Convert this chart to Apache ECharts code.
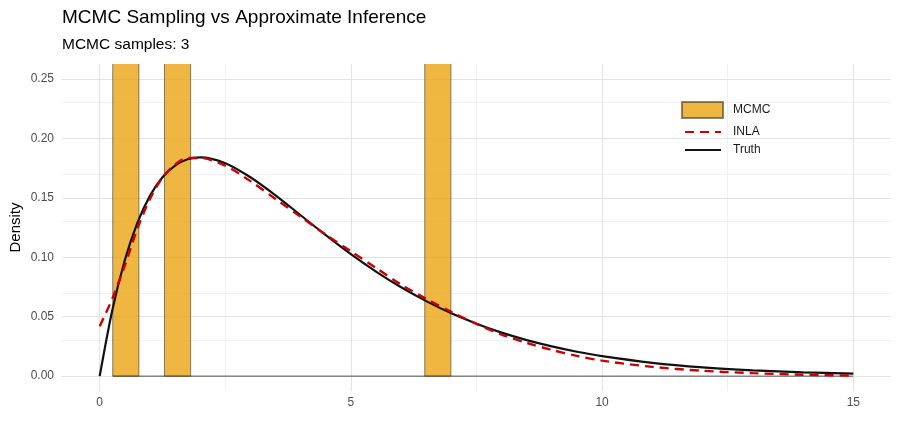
<!DOCTYPE html>
<html>
<head>
<meta charset="utf-8">
<script src="https://cdn.jsdelivr.net/npm/echarts@6/dist/echarts.min.js"></script>
<style>
html,body{margin:0;padding:0;background:#fff;}
#chart{width:900px;height:425px;}
</style>
</head>
<body>
<div id="chart"></div>
<script>
// ---- data ----
const titleText = 'MCMC Sampling vs Approximate Inference';
const subtitleText = 'MCMC samples: 3';
const xTickLabels = [0, 5, 10, 15];
const yTickLabels = [0, 0.05, 0.10, 0.15, 0.20, 0.25];
const xMinorGrid = [2.5, 7.5, 12.5];
const yMinorGrid = [0.025, 0.075, 0.125, 0.175, 0.225];

// MCMC histogram (3 samples) : bin left edges, right edges, density
const mcmcBinLeft = [0.26, 1.29, 6.47];
const mcmcBinRight = [0.78, 1.81, 6.99];
const mcmcDensity = [0.64, 0.64, 0.64];
// empty bins drawn as a baseline
const mcmcEmptyRange = [0.26, 15.0];

// curves
const curveX = [0, 0.25, 0.5, 0.75, 1, 1.25, 1.5, 1.75, 2, 2.5, 3, 3.5, 4, 4.5, 5, 5.5, 6, 6.5, 7, 7.5, 8, 8.5, 9, 9.5, 10, 11, 12, 13, 14, 15];
const truthY = [0, 0.0552, 0.0974, 0.1289, 0.1516, 0.1673, 0.1771, 0.1824, 0.1839, 0.1791, 0.1673, 0.1521, 0.1353, 0.1186, 0.1026, 0.0879, 0.0747, 0.0631, 0.0528, 0.0441, 0.0366, 0.0303, 0.0250, 0.0205, 0.0168, 0.0112, 0.0074, 0.0049, 0.0032, 0.0021];
const inlaY = [0.042, 0.065, 0.093, 0.124, 0.149, 0.167, 0.178, 0.1835, 0.1835, 0.177, 0.164, 0.149, 0.134, 0.119, 0.105, 0.091, 0.077, 0.065, 0.054, 0.044, 0.035, 0.028, 0.022, 0.017, 0.013, 0.0078, 0.0045, 0.0025, 0.0012, 0.0005];

// ---- build ----
const FONT = '"Liberation Sans", Arial, Helvetica, sans-serif';
const barFill = 'rgba(234,163,12,0.78)';
const barStroke = 'rgba(60,55,40,0.6)';

const histData = mcmcBinLeft.map((l, i) => [l, mcmcBinRight[i], mcmcDensity[i]]);
const truthData = curveX.map((x, i) => [x, truthY[i]]);
const inlaData = curveX.map((x, i) => [x, inlaY[i]]);

const isMult = (v, step) => Math.abs(v / step - Math.round(v / step)) < 1e-6;

const chart = echarts.init(document.getElementById('chart'), null, {renderer: 'canvas'});
chart.setOption({
  animation: false,
  backgroundColor: '#fff',
  textStyle: {fontFamily: FONT},
  title: [
    {text: titleText, left: 57, top: 3, textStyle: {fontFamily: FONT, fontSize: 19, fontWeight: 'normal', color: '#000'}},
    {text: subtitleText, left: 57, top: 32, textStyle: {fontFamily: FONT, fontSize: 15.5, fontWeight: 'normal', color: '#000'}}
  ],
  legend: [
    {
      data: [{name: 'MCMC', icon: 'rect'}],
      left: 681, top: 101, padding: 0,
      itemWidth: 41, itemHeight: 16,
      textStyle: {fontFamily: FONT, fontSize: 12, color: '#1a1a1a', padding: [0, 0, 0, 5]}
    },
    {
      data: [
        {name: 'INLA', itemStyle: {opacity: 0, color: 'rgba(0,0,0,0)', borderWidth: 0}},
        {name: 'Truth', itemStyle: {opacity: 0, color: 'rgba(0,0,0,0)', borderWidth: 0}}
      ],
      orient: 'vertical',
      left: 684, top: 126, padding: 0,
      itemWidth: 36, itemHeight: 14, itemGap: 6,
      textStyle: {fontFamily: FONT, fontSize: 12, color: '#1a1a1a', padding: [0, 0, 0, 7]}
    }
  ],
  grid: {left: 62, right: 9, top: 64, bottom: 34, containLabel: false, outerBoundsMode: 'none'},
  xAxis: {
    type: 'value', min: -0.75, max: 15.75, interval: 0.25,
    axisLine: {show: false}, axisTick: {show: false}, splitLine: {show: false},
    axisLabel: {
      fontFamily: FONT, fontSize: 12, color: '#4d4d4d', margin: 6,
      showMinLabel: true, showMaxLabel: true, hideOverlap: false,
      formatter: v => (isMult(v, 5) && xTickLabels.includes(Math.round(v))) ? String(Math.round(v)) : ''
    }
  },
  yAxis: {
    type: 'value', min: -0.0125, max: 0.2625, interval: 0.0125,
    name: 'Density', nameLocation: 'middle', nameGap: 39, nameRotate: 90, nameMoveOverlap: false,
    nameTextStyle: {fontFamily: FONT, fontSize: 15, color: '#000'},
    axisLine: {show: false}, axisTick: {show: false}, splitLine: {show: false},
    axisLabel: {
      fontFamily: FONT, fontSize: 12, color: '#4d4d4d', margin: 8, hideOverlap: false,
      formatter: v => (isMult(v, 0.05) && v > -0.001) ? v.toFixed(2) : ''
    }
  },
  series: [
    {
      name: 'gridMinor', type: 'line', data: [], z: 0, silent: true,
      markLine: {
        silent: true, symbol: 'none', label: {show: false}, animation: false, z: 0,
        lineStyle: {color: '#f0f0f0', width: 1, type: 'solid'},
        data: xMinorGrid.map(v => ({xAxis: v})).concat(yMinorGrid.map(v => ({yAxis: v})))
      }
    },
    {
      name: 'gridMajor', type: 'line', data: [], z: 0, silent: true,
      markLine: {
        silent: true, symbol: 'none', label: {show: false}, animation: false, z: 0,
        lineStyle: {color: '#e3e3e3', width: 1.1, type: 'solid'},
        data: xTickLabels.map(v => ({xAxis: v})).concat(yTickLabels.map(v => ({yAxis: v})))
      }
    },
    {
      name: 'MCMC', type: 'custom', z: 2, clip: true,
      itemStyle: {color: barFill, borderColor: barStroke, borderWidth: 1},
      data: histData,
      encode: {x: [0, 1], y: 2},
      renderItem: function (params, api) {
        const x0 = api.value(0), x1 = api.value(1), y = api.value(2);
        const p0 = api.coord([x0, 0]);
        const p1 = api.coord([x1, y]);
        return {
          type: 'rect',
          shape: {x: p0[0], y: p1[1], width: p1[0] - p0[0], height: p0[1] - p1[1]},
          style: {fill: barFill, stroke: barStroke, lineWidth: 1}
        };
      }
    },
    {
      name: 'MCMCbase', type: 'line', z: 2, silent: true, symbol: 'none',
      data: [[mcmcEmptyRange[0], 0], [mcmcEmptyRange[1], 0]],
      lineStyle: {color: 'rgba(50,50,50,0.85)', width: 1}
    },
    {
      name: 'INLA', type: 'line', z: 4, symbol: 'none', smooth: 0.3,
      data: inlaData,
      itemStyle: {color: '#cc0000'},
      lineStyle: {color: '#cc0000', width: 2.4, type: [9, 6]}
    },
    {
      name: 'Truth', type: 'line', z: 3, symbol: 'none', smooth: 0.3,
      data: truthData,
      itemStyle: {color: '#000'},
      lineStyle: {color: '#111', width: 2.2}
    }
  ]
});
</script>
</body>
</html>
